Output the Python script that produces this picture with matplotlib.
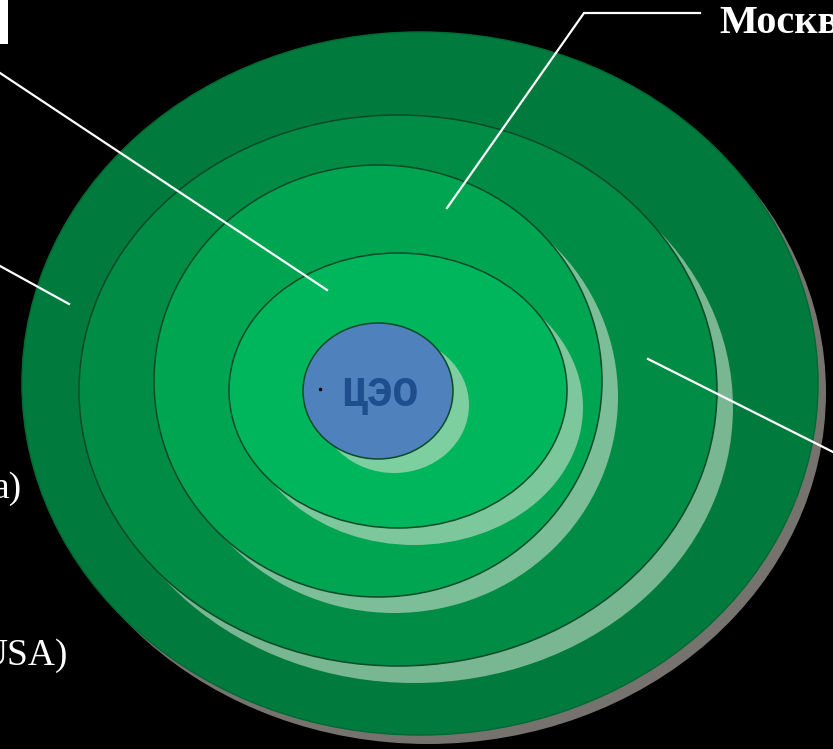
import matplotlib
matplotlib.use("Agg")
import matplotlib.pyplot as plt
from matplotlib.patches import Ellipse, Rectangle

# ring geometry (pixel space of the slide), outermost first
ring_cx = [420, 398, 378, 398, 378]
ring_cy = [383.5, 390.5, 381, 390.5, 391]
ring_w = [796, 638, 448, 338, 150]
ring_h = [703, 551, 432, 275, 136]
ring_colors = ["#007B3D", "#008C45", "#00A552", "#00B65C", "#4F81BD"]
shadow_colors = ["#76736E", "#79B793", "#7BBE97", "#7DC79C", "#7DCF9F"]
shadow_dx = [8, 16, 16, 16, 16]
shadow_dy = [9, 17, 16, 17, 14]
edge_colors = ["#006A34", "#0B4A28", "#0B4A28", "#0B4A28", "#0B4A28"]

center_label = "ЦЭО"
label_top = "Москв"
label_left = ["a)", "USA)"]

fig = plt.figure(figsize=(8.33, 7.49), dpi=100)
fig.patch.set_facecolor("black")
ax = fig.add_axes([0, 0, 1, 1])
ax.set_facecolor("black")
ax.set_xlim(0, 833)
ax.set_ylim(749, 0)
ax.axis("off")

z = 1
for cx, cy, w, h, c, sc, dx, dy, ec in zip(ring_cx, ring_cy, ring_w, ring_h,
                                          ring_colors, shadow_colors,
                                          shadow_dx, shadow_dy, edge_colors):
    ax.add_patch(Ellipse((cx + dx, cy + dy), w, h, facecolor=sc,
                         edgecolor="none", zorder=z))
    ax.add_patch(Ellipse((cx, cy), w, h, facecolor=c, edgecolor=ec,
                         lw=1.1, zorder=z + 1))
    z += 2

ax.text(380, 395, center_label, family=["Liberation Mono", "DejaVu Sans Mono"],
        fontweight="bold", fontsize=31, color="#1F4E8C",
        ha="center", va="center", zorder=20)
ax.plot([320], [389], marker="o", ms=1.5, color="black", zorder=21)

# leader lines
lw = 1.6
ax.plot([0, 327], [73, 290], color="white", lw=lw, zorder=22)
ax.plot([0, 69], [266, 304], color="white", lw=lw, zorder=22)
ax.plot([447, 584, 700], [208, 13, 13], color="white", lw=lw, zorder=22)
ax.plot([648, 833], [359, 452], color="white", lw=lw, zorder=22)

# white box at top-left
ax.add_patch(Rectangle((0, 0), 8, 44, facecolor="white", edgecolor="none",
                       zorder=22))

serif = ["Liberation Serif", "DejaVu Serif"]
ax.text(719, 33, label_top, family=serif, fontweight="bold", fontsize=29,
        color="white", ha="left", va="baseline", zorder=23)
ax.text(22, 498, label_left[0], family=serif, fontsize=27, color="white",
        ha="right", va="baseline", zorder=23)
ax.text(68, 665, label_left[1], family=serif, fontsize=27, color="white",
        ha="right", va="baseline", zorder=23)

fig.savefig("out.png", dpi=100, facecolor="black")
